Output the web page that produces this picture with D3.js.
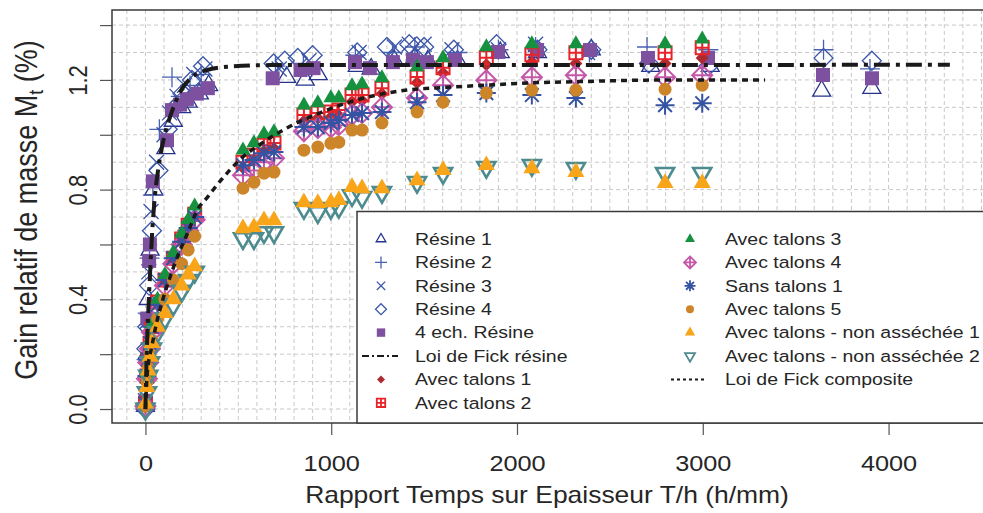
<!DOCTYPE html>
<html>
<head>
<meta charset="utf-8">
<script src="https://cdn.jsdelivr.net/npm/d3@7"></script>
<style>
body { margin: 0; background: #fff; }
text { font-family: "Liberation Sans", Arial, sans-serif; fill: #262626; }
</style>
</head>
<body>
<svg id="drawing_region" width="983" height="513"></svg>
<script>
// axis ticks
const xTicks = [0, 1000, 2000, 3000, 4000];
const yTicks = [0, 0.2, 0.4, 0.6, 0.8, 1.0, 1.2, 1.4];
const yTickLabels = ['0.0', '', '0.4', '', '0.8', '', '1.2', ''];

// resin samples (h/mm, %)
const resine1X = [0, 8, 15, 25, 45, 110, 150, 195, 230, 290, 340, 760, 860, 930, 1140, 1215, 1340, 1450, 1520, 1680, 1910, 2110, 2400, 2720, 3040, 3640, 3910];
const resine1Y = [0.01, 0.20, 0.40, 0.58, 0.80, 0.95, 1.05, 1.10, 1.12, 1.15, 1.18, 1.21, 1.20, 1.22, 1.25, 1.24, 1.27, 1.28, 1.27, 1.27, 1.30, 1.30, 1.31, 1.25, 1.25, 1.16, 1.17];
const resine2X = [0, 6, 12, 22, 40, 75, 143, 190, 240, 300, 700, 850, 1130, 1330, 1450, 1680, 1900, 2100, 2390, 2700, 3030, 3650, 3900];
const resine2Y = [0.02, 0.18, 0.35, 0.55, 0.78, 1.02, 1.21, 1.14, 1.18, 1.22, 1.25, 1.26, 1.29, 1.30, 1.32, 1.30, 1.31, 1.32, 1.30, 1.32, 1.31, 1.31, 1.24];
const resine3X = [0, 5, 10, 18, 30, 60, 100, 130, 170, 210, 260, 320, 720, 880, 1150, 1340, 1420, 1500, 1650, 1900, 2100, 2380];
const resine3Y = [0.03, 0.15, 0.32, 0.50, 0.72, 0.90, 1.00, 1.08, 1.14, 1.18, 1.22, 1.24, 1.24, 1.27, 1.30, 1.32, 1.33, 1.33, 1.31, 1.31, 1.33, 1.30];
const resine4X = [0, 5, 10, 20, 35, 70, 120, 160, 200, 250, 310, 690, 750, 820, 900, 1140, 1300, 1420, 1500, 1660, 1890, 2110, 2400, 2710, 3030, 3650, 3910];
const resine4Y = [0.00, 0.22, 0.30, 0.45, 0.65, 0.87, 1.02, 1.10, 1.15, 1.20, 1.25, 1.26, 1.27, 1.28, 1.29, 1.30, 1.32, 1.33, 1.32, 1.31, 1.33, 1.31, 1.31, 1.26, 1.25, 1.28, 1.27];
const resineMeanX = [0, 10, 20, 24, 40, 116, 143, 186, 223, 277, 336, 685, 835, 905, 1128, 1208, 1332, 1440, 1515, 1666, 1898, 2108, 2393, 2705, 3028, 3647, 3911];
const resineMeanY = [0.03, 0.33, 0.54, 0.60, 0.83, 0.98, 1.09, 1.11, 1.13, 1.15, 1.17, 1.206, 1.236, 1.243, 1.265, 1.243, 1.265, 1.273, 1.265, 1.273, 1.302, 1.309, 1.309, 1.280, 1.280, 1.218, 1.206];

// composite samples share the same time steps
const compositeX = [0, 8, 15, 25, 35, 65, 105, 150, 195, 230, 265, 525, 584, 638, 692, 853, 928, 998, 1041, 1112, 1166, 1273, 1462, 1602, 1835, 2080, 2317, 2797, 2997];
const talons1Y = [0.01, 0.11, 0.17, 0.23, 0.29, 0.38, 0.46, 0.54, 0.61, 0.66, 0.70, 0.88, 0.905, 0.94, 0.95, 1.05, 1.06, 1.065, 1.07, 1.12, 1.125, 1.15, 1.19, 1.225, 1.255, 1.265, 1.26, 1.26, 1.28];
const talons2Y = [0.02, 0.12, 0.18, 0.24, 0.30, 0.39, 0.47, 0.55, 0.62, 0.67, 0.71, 0.900, 0.925, 0.962, 0.970, 1.072, 1.079, 1.083, 1.090, 1.145, 1.145, 1.170, 1.211, 1.244, 1.281, 1.292, 1.299, 1.299, 1.317];
const talons3Y = [0.02, 0.13, 0.19, 0.25, 0.31, 0.40, 0.49, 0.57, 0.64, 0.69, 0.74, 0.944, 0.970, 1.003, 1.010, 1.108, 1.116, 1.134, 1.134, 1.178, 1.185, 1.207, 1.247, 1.280, 1.320, 1.331, 1.331, 1.331, 1.349];
const talons4Y = [0.01, 0.11, 0.17, 0.22, 0.28, 0.37, 0.45, 0.53, 0.60, 0.65, 0.69, 0.852, 0.870, 0.900, 0.914, 1.013, 1.024, 1.027, 1.035, 1.072, 1.079, 1.100, 1.134, 1.181, 1.199, 1.210, 1.217, 1.210, 1.217];
const sansTalons1Y = [0.02, 0.12, 0.18, 0.24, 0.30, 0.38, 0.47, 0.55, 0.61, 0.66, 0.70, 0.889, 0.908, 0.933, 0.937, 1.028, 1.028, 1.043, 1.054, 1.072, 1.079, 1.083, 1.119, 1.145, 1.152, 1.145, 1.134, 1.108, 1.115];
const talons5Y = [0.01, 0.10, 0.15, 0.20, 0.25, 0.33, 0.40, 0.47, 0.53, 0.58, 0.63, 0.805, 0.827, 0.860, 0.864, 0.944, 0.955, 0.969, 0.973, 1.017, 1.017, 1.043, 1.083, 1.119, 1.152, 1.163, 1.163, 1.166, 1.181];
const nonSeche1Y = [0.02, 0.08, 0.14, 0.19, 0.24, 0.30, 0.35, 0.40, 0.45, 0.49, 0.52, 0.659, 0.663, 0.688, 0.688, 0.754, 0.751, 0.754, 0.762, 0.809, 0.805, 0.805, 0.834, 0.871, 0.889, 0.878, 0.864, 0.824, 0.824];
const nonSeche2Y = [0.00, 0.06, 0.12, 0.17, 0.22, 0.28, 0.33, 0.38, 0.43, 0.47, 0.50, 0.622, 0.622, 0.644, 0.644, 0.732, 0.717, 0.732, 0.736, 0.779, 0.772, 0.790, 0.827, 0.860, 0.882, 0.889, 0.878, 0.860, 0.860];

// Fick curves
const fickResineX = [0, 3, 8, 15, 24, 35, 50, 70, 100, 140, 190, 250, 330, 440, 670, 4330];
const fickResineY = [0, 0.10, 0.22, 0.35, 0.48, 0.63, 0.77, 0.88, 0.99, 1.08, 1.16, 1.21, 1.236, 1.248, 1.254, 1.255];
const fickCompositeX = [0, 10, 35, 62, 94, 132, 175, 229, 283, 331, 401, 466, 509, 617, 762, 940, 1101, 1246, 1408, 1623, 1838, 2070, 2339, 2840, 3335];
const fickCompositeY = [0, 0.13, 0.23, 0.32, 0.40, 0.48, 0.56, 0.645, 0.73, 0.77, 0.83, 0.88, 0.91, 0.965, 1.025, 1.08, 1.12, 1.145, 1.163, 1.173, 1.181, 1.189, 1.194, 1.200, 1.200];

const legendCol1 = ['Résine 1', 'Résine 2', 'Résine 3', 'Résine 4', '4 ech. Résine', 'Loi de Fick résine', 'Avec talons 1', 'Avec talons 2'];
const legendCol2 = ['Avec talons 3', 'Avec talons 4', 'Sans talons 1', 'Avec talons 5', 'Avec talons - non asséchée 1', 'Avec talons - non asséchée 2', 'Loi de Fick composite'];

const stretch = 1.15;

function symbolPath(shape, s) {
    const h = s * 1.155, b = s * 0.577;
    const sq = `M${-s},${-s}H${s}V${s}H${-s}Z`;
    const di = `M0,${-s}L${s},0L0,${s}L${-s},0Z`;
    const pl = `M${-s},0H${s}M0,${-s}V${s}`;
    const c = s * 0.72;
    const cr = `M${-c},${-c}L${c},${c}M${-c},${c}L${c},${-c}`;
    switch (shape) {
        case 'triUp': return `M0,${-h}L${s},${b}L${-s},${b}Z`;
        case 'triDown': return `M0,${h}L${s},${-b}L${-s},${-b}Z`;
        case 'plus': return pl;
        case 'cross': return `M${-s},${-s}L${s},${s}M${-s},${s}L${s},${-s}`;
        case 'diamond': return di;
        case 'square': return sq;
        case 'squarePlus': return sq + pl;
        case 'diamondPlus': return di + pl;
        case 'asterisk': return pl + cr;
        case 'circle': return `M${-s},0A${s},${s} 0 1,0 ${s},0A${s},${s} 0 1,0 ${-s},0Z`;
    }
}

const series = {
    'Résine 1': { x: resine1X, y: resine1Y, shape: 'triUp', size: 9, leg: 4.8, color: '#27338a', filled: false, sw: 1.3 },
    'Résine 2': { x: resine2X, y: resine2Y, shape: 'plus', size: 10, leg: 6, color: '#4862b0', filled: false, sw: 1.3 },
    'Résine 3': { x: resine3X, y: resine3Y, shape: 'cross', size: 7.5, leg: 4.2, color: '#3c56a8', filled: false, sw: 1.3 },
    'Résine 4': { x: resine4X, y: resine4Y, shape: 'diamond', size: 9.5, leg: 5.5, color: '#3c56a8', filled: false, sw: 1.3 },
    '4 ech. Résine': { x: resineMeanX, y: resineMeanY, shape: 'square', size: 7, leg: 4.2, color: '#7d50a0', filled: true },
    'Avec talons 1': { x: compositeX, y: talons1Y, shape: 'diamond', size: 6.5, leg: 4, color: '#ad2a30', filled: true },
    'Avec talons 2': { x: compositeX, y: talons2Y, shape: 'squarePlus', size: 6.5, leg: 4.2, color: '#e8242b', filled: false, sw: 2 },
    'Avec talons 4': { x: compositeX, y: talons4Y, shape: 'diamondPlus', size: 10, leg: 6, color: '#c458a8', filled: false, sw: 2 },
    'Sans talons 1': { x: compositeX, y: sansTalons1Y, shape: 'asterisk', size: 9.5, leg: 5.5, color: '#3453a3', filled: false, sw: 2 },
    'Avec talons 3': { x: compositeX, y: talons3Y, shape: 'triUp', size: 7.5, leg: 5, color: '#16913f', filled: true },
    'Avec talons 5': { x: compositeX, y: talons5Y, shape: 'circle', size: 6.5, leg: 4, color: '#cc8529', filled: true },
    'Avec talons - non asséchée 2': { x: compositeX, y: nonSeche2Y, shape: 'triDown', size: 9, leg: 5, color: '#4e8b8f', filled: false, sw: 2.6 },
    'Avec talons - non asséchée 1': { x: compositeX, y: nonSeche1Y, shape: 'triUp', size: 8.5, leg: 5.2, color: '#f9a51a', filled: true }
};

const lines = {
    'Loi de Fick résine': { x: fickResineX, y: fickResineY, dash: '16,6,4,6', width: 4, legDash: '7,3,2,3', legWidth: 2 },
    'Loi de Fick composite': { x: fickCompositeX, y: fickCompositeY, dash: '6,5', width: 3.5, legDash: '3,3', legWidth: 2 }
};

const svg = d3.select('#drawing_region');
const box = { left: 112, right: 983, top: 10, bottom: 423 };

const xscale = d3.scaleLinear().domain([-180, 4503]).range([112, 982]);
const yscale = d3.scaleLinear().domain([-0.051, 1.455]).range([423, 10]);

svg.append('rect').attr('width', 983).attr('height', 513).attr('fill', '#fff');

// grid
const grid = svg.append('g')
    .attr('stroke', '#c9c9c9').attr('stroke-width', 1).attr('stroke-dasharray', '4,3');
grid.selectAll('.gx').data(d3.range(-100, 4600, 100)).join('line')
    .attr('x1', d => xscale(d)).attr('x2', d => xscale(d))
    .attr('y1', box.top).attr('y2', box.bottom);
grid.selectAll('.gy').data(d3.range(0, 15).map(d => d / 10)).join('line')
    .attr('x1', box.left).attr('x2', box.right)
    .attr('y1', d => yscale(d)).attr('y2', d => yscale(d));

// points
const chart = svg.append('g');
Object.entries(series).forEach(([name, s]) => {
    chart.append('g')
        .selectAll('path').data(d3.zip(s.x, s.y)).join('path')
        .attr('transform', d => `translate(${xscale(d[0])},${yscale(d[1])})`)
        .attr('d', symbolPath(s.shape, s.size))
        .attr('fill', s.filled ? s.color : 'none')
        .attr('stroke', s.filled ? 'none' : s.color)
        .attr('stroke-width', s.sw || 0);
});

// Fick lines
Object.values(lines).forEach(l => {
    const line = d3.line().x(d => xscale(d[0])).y(d => yscale(d[1])).curve(d3.curveMonotoneX);
    chart.append('path')
        .datum(d3.zip(l.x, l.y))
        .attr('d', line)
        .attr('fill', 'none').attr('stroke', '#1a1a1a')
        .attr('stroke-width', l.width).attr('stroke-dasharray', l.dash);
});

// axes
const xaxis = d3.axisBottom(xscale).tickValues(xTicks).tickSize(12).tickFormat(d3.format('d'));
const xaxis_group = svg.append('g').attr('transform', `translate(0,${box.bottom})`).call(xaxis);
xaxis_group.select('.domain').remove();
xaxis_group.selectAll('line').attr('stroke', '#555').attr('stroke-width', 1.2);
xaxis_group.selectAll('text')
    .attr('y', 48).attr('dy', null)
    .attr('transform', `scale(${stretch},1)`)
    .style('font-size', '22px').attr('fill', '#262626');

const yaxis = d3.axisLeft(yscale).tickValues(yTicks).tickSize(12).tickFormat((d, i) => yTickLabels[i]);
const yaxis_group = svg.append('g').attr('transform', `translate(${box.left},0)`).call(yaxis);
yaxis_group.select('.domain').remove();
yaxis_group.selectAll('line').attr('stroke', '#555').attr('stroke-width', 1.2);
yaxis_group.selectAll('text')
    .attr('x', null).attr('dy', null)
    .attr('text-anchor', 'middle')
    .attr('transform', `translate(-25,0) scale(${stretch},1) rotate(-90)`)
    .style('font-size', '22px').attr('fill', '#262626');

// plot frame
svg.append('path')
    .attr('d', `M${box.right},${box.top}H${box.left}V${box.bottom}H${box.right}`)
    .attr('fill', 'none').attr('stroke', '#3a3a3a').attr('stroke-width', 1.5);

// titles
svg.append('text')
    .attr('transform', `translate(547,503) scale(${stretch},1)`)
    .attr('text-anchor', 'middle').style('font-size', '23px')
    .text('Rapport Temps sur Epaisseur T/h (h/mm)');

const ytitle = svg.append('text')
    .attr('transform', `translate(37,210) scale(${stretch},1) rotate(-90)`)
    .attr('text-anchor', 'middle').style('font-size', '27px');
ytitle.append('tspan').text('Gain relatif de masse M');
ytitle.append('tspan').attr('dy', 5).style('font-size', '18px').text('t');
ytitle.append('tspan').attr('dy', -5).text(' (%)');

// legend
const legend = svg.append('g');
legend.append('rect')
    .attr('x', 357).attr('y', 211.5).attr('width', 700).attr('height', box.bottom - 211.5)
    .attr('fill', '#fff').attr('stroke', '#3a3a3a').attr('stroke-width', 1.5);

function drawLegendColumn(names, symX, textX) {
    names.forEach((name, i) => {
        const cy = 239 + i * 23.4;
        if (lines[name]) {
            const l = lines[name];
            legend.append('line')
                .attr('x1', symX - 19).attr('x2', symX + 17).attr('y1', cy).attr('y2', cy)
                .attr('stroke', '#1a1a1a').attr('stroke-width', l.legWidth).attr('stroke-dasharray', l.legDash);
        } else {
            const s = series[name];
            legend.append('path')
                .attr('transform', `translate(${symX},${cy})`)
                .attr('d', symbolPath(s.shape, s.leg))
                .attr('fill', s.filled ? s.color : 'none')
                .attr('stroke', s.filled ? 'none' : s.color)
                .attr('stroke-width', s.sw ? Math.min(s.sw, 1.8) : 0);
        }
        legend.append('text')
            .attr('transform', `translate(${textX},${cy + 5.8}) scale(${stretch + 0.03},1)`)
            .style('font-size', '16.5px')
            .text(name);
    });
}
drawLegendColumn(legendCol1, 381, 415);
drawLegendColumn(legendCol2, 690, 725);
</script>
</body>
</html>
